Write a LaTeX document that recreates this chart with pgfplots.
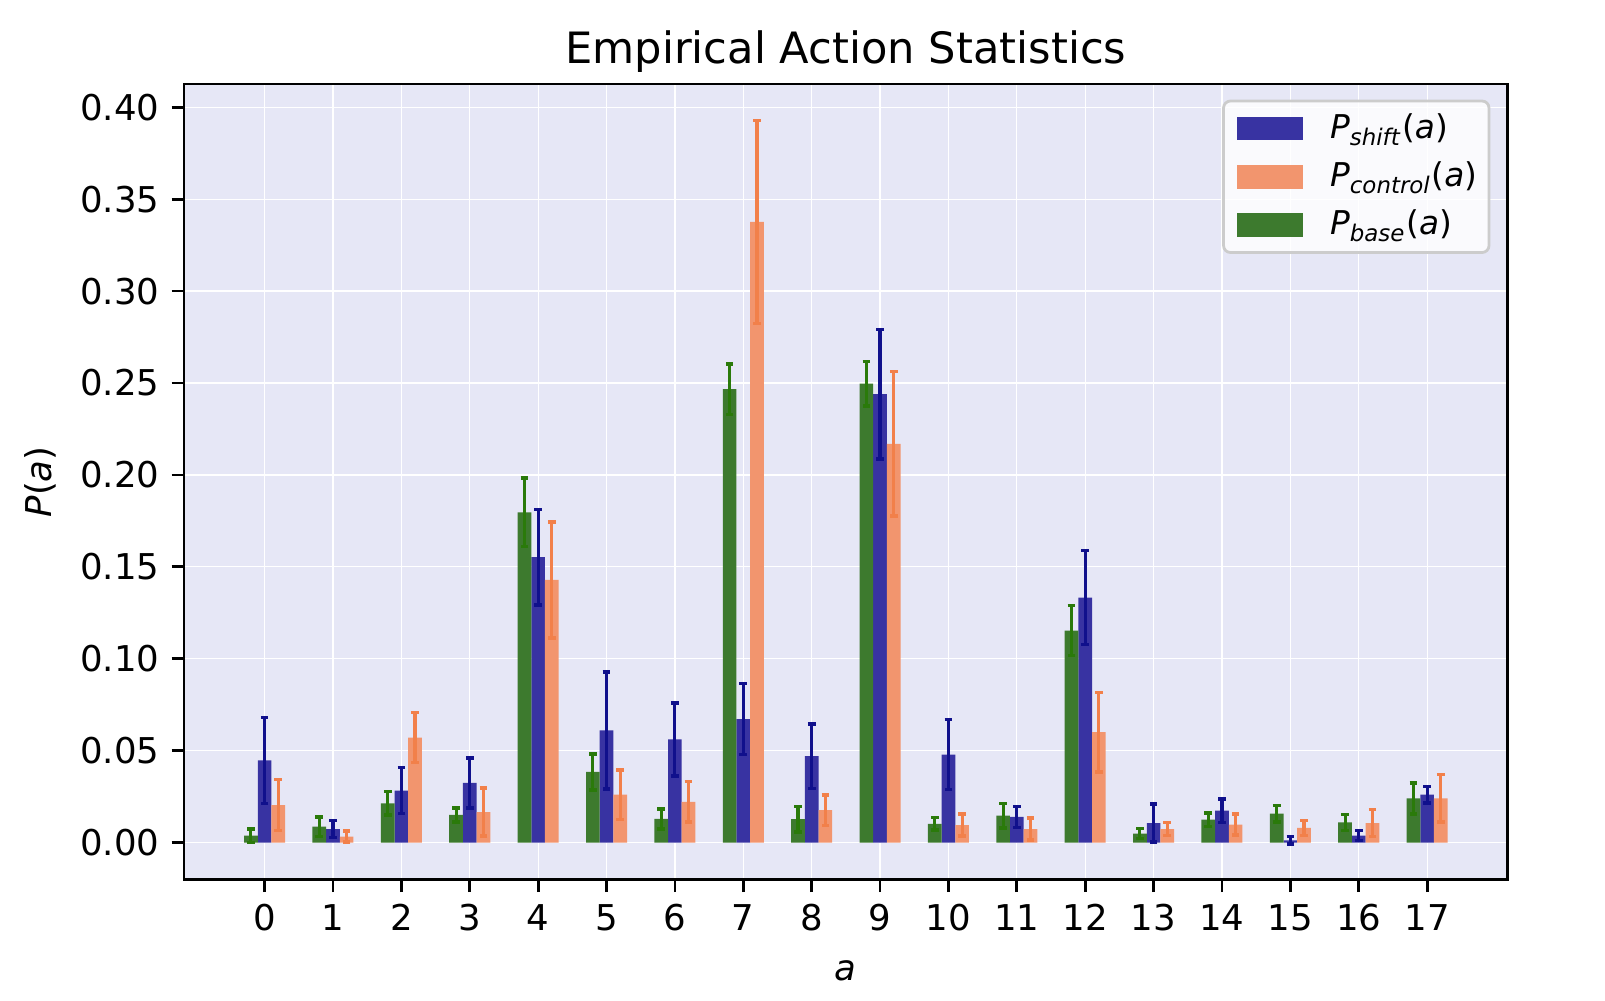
\documentclass[border=0pt]{standalone}
\usepackage{fontspec}
\setmainfont{DejaVu Sans}
\usepackage{pgfplots}
\usepackage{pgfplotstable}
\pgfplotsset{compat=1.18}
\definecolor{bgc}{HTML}{E6E7F6}
\definecolor{shiftbar}{HTML}{3833A2}
\definecolor{shifterr}{HTML}{10108C}
\definecolor{ctrlbar}{HTML}{F2956E}
\definecolor{ctrlerr}{HTML}{F2804A}
\definecolor{basebar}{HTML}{3D7A2E}
\definecolor{baseerr}{HTML}{2A7A0A}
\pgfplotstableread{
x y e
0 0.0447 0.0234
1 0.0073 0.0046
2 0.0282 0.0125
3 0.0324 0.0136
4 0.1553 0.0260
5 0.0610 0.0318
6 0.0561 0.0198
7 0.0671 0.0193
8 0.0470 0.0175
9 0.2439 0.0352
10 0.0478 0.0190
11 0.0140 0.0057
12 0.1333 0.0256
13 0.0106 0.0103
14 0.0173 0.0065
15 0.0012 0.0020
16 0.0037 0.0027
17 0.0260 0.0046
}\shifttab
\pgfplotstableread{
x y e
0 0.0204 0.0140
1 0.0032 0.0030
2 0.0571 0.0135
3 0.0166 0.0130
4 0.1429 0.0316
5 0.0260 0.0135
6 0.0221 0.0110
7 0.3376 0.0552
8 0.0176 0.0083
9 0.2169 0.0393
10 0.0095 0.0060
11 0.0073 0.0060
12 0.0600 0.0216
13 0.0073 0.0035
14 0.0097 0.0057
15 0.0079 0.0040
16 0.0106 0.0074
17 0.0240 0.0129
}\ctrltab
\pgfplotstableread{
x y e
0 0.0037 0.0036
1 0.0086 0.0054
2 0.0213 0.0064
3 0.0150 0.0038
4 0.1796 0.0186
5 0.0384 0.0098
6 0.0128 0.0054
7 0.2466 0.0138
8 0.0127 0.0070
9 0.2496 0.0120
10 0.0102 0.0035
11 0.0146 0.0067
12 0.1153 0.0136
13 0.0048 0.0027
14 0.0124 0.0036
15 0.0157 0.0045
16 0.0109 0.0044
17 0.0240 0.0084
}\basetab
\begin{document}
\begin{tikzpicture}
\begin{axis}[
  scale only axis, width=380.1pt, height=228.5pt,
  xmin=-1.18, xmax=18.18, ymin=-0.0203, ymax=0.4127,
  axis background/.style={fill=bgc},
  grid=major, major grid style={white, line width=0.35pt},
  xtick={0,1,2,3,4,5,6,7,8,9,10,11,12,13,14,15,16,17},
  ytick={0,0.05,0.10,0.15,0.20,0.25,0.30,0.35,0.40},
  yticklabel style={/pgf/number format/.cd, fixed, fixed zerofill, precision=2},
  /pgf/number format/assume math mode=true,
  ticklabel style={font=\fontsize{10.2}{12}\selectfont},
  tick align=outside, tick pos=left, major tick length=3.5pt,
  tick style={black, line width=0.8pt},
  axis line style={line width=0.8pt},
  ybar, bar width=0.2, bar shift=0pt,
  title={Empirical Action Statistics},
  title style={font=\fontsize{12.4}{14}\selectfont, anchor=base},
  xlabel={\textit{a}}, ylabel={\textit{P}(\textit{a})},
  xlabel style={yshift=-1.5pt},
  label style={font=\fontsize{10.2}{12}\selectfont},
  legend image code/.code={\path (0pt,0pt); \fill[#1, sharp corners, fill opacity=1] (2.4pt,-3.4pt) rectangle (21.4pt,3.4pt); \path (27.2pt,0pt);},
  legend style={at={(1,1)}, anchor=north east, xshift=-5pt, yshift=-4.5pt,
    draw=black!20, line width=0.8pt, rounded corners=2pt, fill=white, fill opacity=0.8, text opacity=1,
    font=\fontsize{9.4}{11}\selectfont, row sep=1.2pt, inner xsep=1.4pt, inner ysep=1.6pt},
  legend cell align=left,
]
\addplot[fill=shiftbar, draw=none,
  error bars/.cd, y dir=both, y explicit,
  error bar style={color=shifterr, line width=0.9pt},
  error mark options={rotate=90, color=shifterr, mark size=1.1pt, line width=1pt}]
  table[x expr=\thisrow{x}, y=y, y error=e]{\shifttab};
\addlegendentry{\textit{P}\textsubscript{\textit{shift}}(\textit{a})}
\addplot[fill=ctrlbar, draw=none,
  error bars/.cd, y dir=both, y explicit,
  error bar style={color=ctrlerr, line width=0.9pt},
  error mark options={rotate=90, color=ctrlerr, mark size=1.1pt, line width=1pt}]
  table[x expr=\thisrow{x}+0.2, y=y, y error=e]{\ctrltab};
\addlegendentry{\textit{P}\textsubscript{\textit{control}}(\textit{a})}
\addplot[fill=basebar, draw=none,
  error bars/.cd, y dir=both, y explicit,
  error bar style={color=baseerr, line width=0.9pt},
  error mark options={rotate=90, color=baseerr, mark size=1.1pt, line width=1pt}]
  table[x expr=\thisrow{x}-0.2, y=y, y error=e]{\basetab};
\addlegendentry{\textit{P}\textsubscript{\textit{base}}(\textit{a})}
\end{axis}
\pgfresetboundingbox
\useasboundingbox (-52.8pt,-34.7pt) rectangle (408pt,252.6pt);
\end{tikzpicture}
\end{document}
